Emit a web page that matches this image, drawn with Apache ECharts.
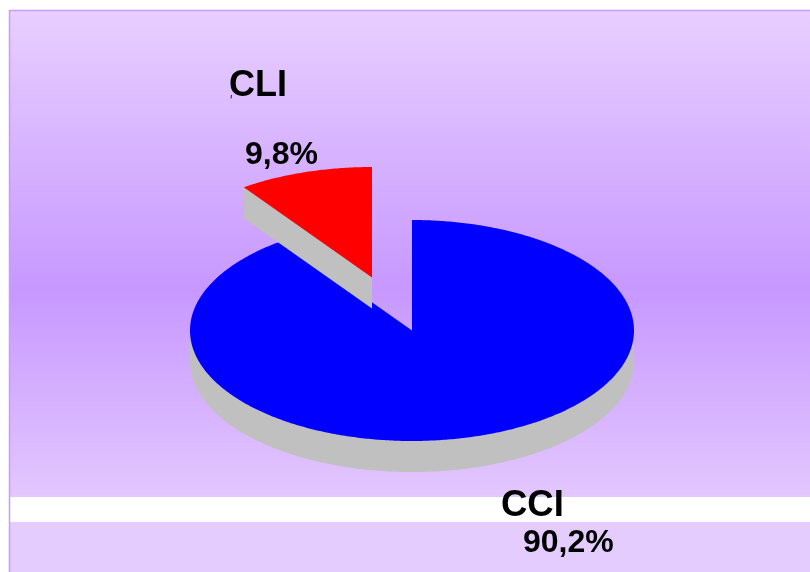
<!DOCTYPE html>
<html>
<head>
<meta charset="utf-8">
<title>CCI / CLI</title>
<style>
  html, body { margin: 0; padding: 0; background: #fff; }
  #chart { width: 810px; height: 572px; }
</style>
<script src="https://cdn.jsdelivr.net/npm/echarts@6/dist/echarts.min.js"></script>
</head>
<body>
<div id="chart"></div>
<script>
// Share of each category, in percent
const categories = ['CCI', 'CLI'];
const shares = [90.2, 9.8];
const shareLabels = ['90,2%', '9,8%'];

const sliceColors = ['#0000ff', '#ff0000'];
const sideColor = '#c0c0c0';
const fontFamily = '"Liberation Sans", Arial, sans-serif';

// Tilted-disc layout of the pie
const disc = { cx: 412, cy: 330.5, rx: 222, ry: 110.5, depth: 31 };
const sliceOffsets = [[0, 0], [-40, -53]];
// left, baseline, font size
const namePlacement = [[501, 516, 36.5], [229, 97, 36]];
const sharePlacement = [[523, 553, 32], [245, 165, 32]];

const total = shares.reduce((a, b) => a + b, 0);

// Point on the disc rim; angle runs clockwise from 12 o'clock
function rim(angle, ox, oy, drop) {
  return [
    disc.cx + ox + disc.rx * Math.sin(angle),
    disc.cy + oy + drop - disc.ry * Math.cos(angle)
  ];
}

function arc(from, to, ox, oy, drop) {
  const steps = Math.max(2, Math.ceil(Math.abs(to - from) / 0.01));
  const pts = [];
  for (let i = 0; i <= steps; i++) {
    pts.push(rim(from + (to - from) * i / steps, ox, oy, drop));
  }
  return pts;
}

function renderSlice(params, api) {
  const i = params.dataIndex;
  const before = shares.slice(0, i).reduce((a, b) => a + b, 0);
  const start = before / total * Math.PI * 2;
  const end = (before + api.value(0)) / total * Math.PI * 2;
  const [ox, oy] = sliceOffsets[i];
  const apex = [disc.cx + ox, disc.cy + oy];
  const children = [];

  // Outer wall: only the part of the rim on the front half of the disc shows
  const wallFrom = Math.max(start, Math.PI / 2);
  const wallTo = Math.min(end, Math.PI * 1.5);
  if (wallTo > wallFrom) {
    const upper = arc(wallFrom, wallTo, ox, oy, 0);
    const lower = arc(wallTo, wallFrom, ox, oy, disc.depth);
    children.push({
      type: 'polygon',
      shape: { points: upper.concat(lower) },
      style: { fill: sideColor }
    });
  }

  // Cut wall facing the viewer on the pulled-out slice
  if (ox !== 0 || oy !== 0) {
    const tip = rim(start, ox, oy, 0);
    children.push({
      type: 'polygon',
      shape: {
        points: [
          tip,
          apex,
          [apex[0], apex[1] + disc.depth],
          [tip[0], tip[1] + disc.depth]
        ]
      },
      style: { fill: sideColor }
    });
  }

  // Top face
  children.push({
    type: 'polygon',
    shape: { points: [apex].concat(arc(start, end, ox, oy, 0)) },
    style: { fill: sliceColors[i] }
  });

  return { type: 'group', children };
}

// Text is placed from its top edge, so the baseline is lifted by the ascent
function textBlock(text, place) {
  return {
    type: 'text',
    z: 10,
    style: {
      text,
      x: place[0],
      y: place[1] - Math.round(place[2] * 0.805),
      fill: '#000',
      font: 'bold ' + place[2] + 'px ' + fontFamily,
      align: 'left',
      verticalAlign: 'top'
    }
  };
}

const chart = echarts.init(document.getElementById('chart'), null, { renderer: 'canvas' });

chart.setOption({
  animation: false,
  backgroundColor: '#ffffff',
  graphic: {
    elements: [
      // Panel with its banded violet wash
      {
        type: 'rect', z: -3,
        shape: { x: 9, y: 10, width: 801, height: 487 },
        style: {
          fill: new echarts.graphic.LinearGradient(0, 0, 0, 1, [
            { offset: 0, color: '#e8cfff' },
            { offset: 0.575, color: '#c798ff' },
            { offset: 1, color: '#e3c7ff' }
          ])
        }
      },
      {
        type: 'rect', z: -3,
        shape: { x: 9, y: 497, width: 801, height: 25 },
        style: { fill: '#ffffff' }
      },
      {
        type: 'rect', z: -3,
        shape: { x: 9, y: 522, width: 801, height: 50 },
        style: { fill: '#e5ccff' }
      },
      // Panel edge
      {
        type: 'polyline', z: -2,
        shape: { points: [[9.5, 572], [9.5, 10.5], [810, 10.5]] },
        style: { fill: null, stroke: '#c79aff', lineWidth: 1.5 }
      },
      // Small tick under the CLI caption
      {
        type: 'line', z: 10,
        shape: { x1: 231.5, y1: 95, x2: 231, y2: 98.5 },
        style: { stroke: '#222', lineWidth: 1 }
      },
      textBlock(categories[0], namePlacement[0]),
      textBlock(categories[1], namePlacement[1]),
      textBlock(shareLabels[0], sharePlacement[0]),
      textBlock(shareLabels[1], sharePlacement[1])
    ]
  },
  series: [{
    type: 'custom',
    coordinateSystem: 'none',
    silent: true,
    clip: false,
    data: shares.map((v, i) => ({ name: categories[i], value: [v] })),
    renderItem: renderSlice
  }]
});
</script>
</body>
</html>
